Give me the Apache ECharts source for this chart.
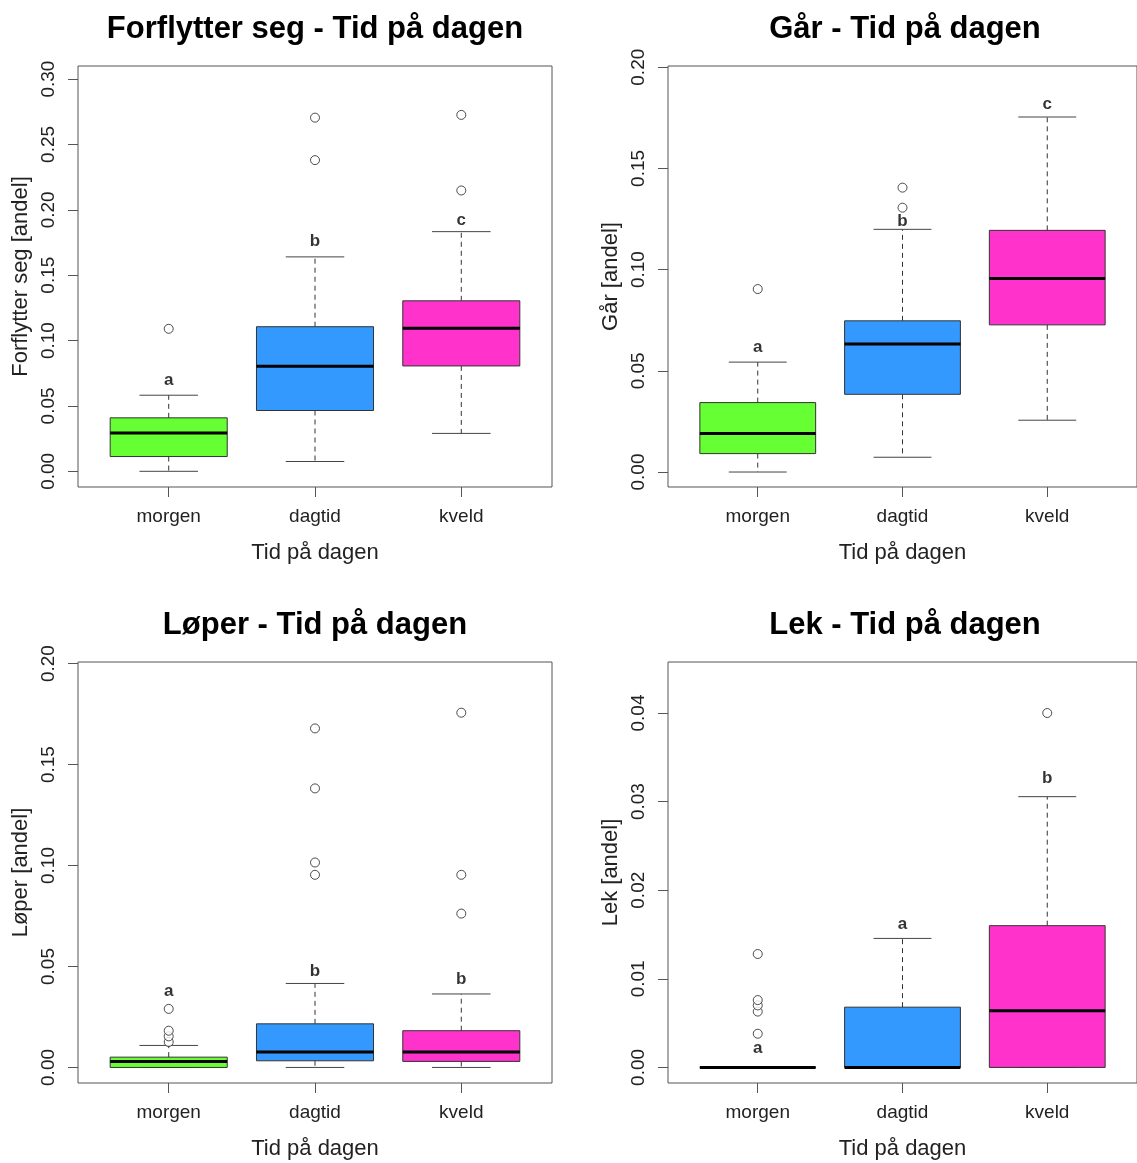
<!DOCTYPE html>
<html>
<head>
<meta charset="utf-8">
<script src="https://cdn.jsdelivr.net/npm/echarts@6/dist/echarts.min.js"></script>
<style>
html,body{margin:0;padding:0;background:#fff;}
#c{width:1137px;height:1163px;}
</style>
</head>
<body>
<div id="c"></div>
<script>
// ---------- data ----------
const categories = ['morgen', 'dagtid', 'kveld'];
const boxColors = ['#66ff33', '#3399ff', '#ff33cc'];

const titles = ['Forflytter seg - Tid på dagen', 'Går - Tid på dagen', 'Løper - Tid på dagen', 'Lek - Tid på dagen'];
const yNames = ['Forflytter seg [andel]', 'Går [andel]', 'Løper [andel]', 'Lek [andel]'];
const xName = 'Tid på dagen';

// [lower whisker, Q1, median, Q3, upper whisker] per category
const forflytterBox = [
  [0.000, 0.0113, 0.0293, 0.0409, 0.0582],
  [0.0075, 0.0465, 0.0804, 0.1106, 0.1640],
  [0.0290, 0.0806, 0.1094, 0.1304, 0.1833]
];
const forflytterOutliers = [[0, 0.109], [1, 0.238], [1, 0.2705], [2, 0.2148], [2, 0.2726]];
const forflytterLetters = ['a', 'b', 'c'];
const forflytterLetterY = [0.0696, 0.1758, 0.192];

const garBox = [
  [0.000, 0.0091, 0.0190, 0.0343, 0.0543],
  [0.0073, 0.0384, 0.0633, 0.0747, 0.1199],
  [0.0256, 0.0727, 0.0956, 0.1194, 0.1754]
];
const garOutliers = [[0, 0.0904], [1, 0.1306], [1, 0.1405]];
const garLetters = ['a', 'b', 'c'];
const garLetterY = [0.0618, 0.1237, 0.1817];

const loperBox = [
  [0.000, 0.000, 0.0030, 0.0051, 0.0109],
  [0.000, 0.0033, 0.0076, 0.0216, 0.0416],
  [0.000, 0.0030, 0.0076, 0.0182, 0.0364]
];
const loperOutliers = [[0, 0.0126], [0, 0.0154], [0, 0.0182], [0, 0.029],
  [1, 0.0954], [1, 0.1015], [1, 0.1382], [1, 0.1679],
  [2, 0.0762], [2, 0.0954], [2, 0.1757]];
const loperLetters = ['a', 'b', 'b'];
const loperLetterY = [0.0376, 0.0478, 0.0437];

const lekBox = [
  [0.000, 0.000, 0.000, 0.000, 0.000],
  [0.000, 0.000, 0.000, 0.0068, 0.01456],
  [0.000, 0.000, 0.0064, 0.0160, 0.03056]
];
const lekOutliers = [[0, 0.0038], [0, 0.0063], [0, 0.0070], [0, 0.0076], [0, 0.0128], [2, 0.040]];
const lekLetters = ['a', 'a', 'b'];
const lekLetterY = [0.0021, 0.0162, 0.0326];

// y tick labels
const yTicks1 = ['0.00', '0.05', '0.10', '0.15', '0.20', '0.25', '0.30'];
const yTicks2 = ['0.00', '0.05', '0.10', '0.15', '0.20'];
const yTicks3 = ['0.00', '0.05', '0.10', '0.15', '0.20'];
const yTicks4 = ['0.00', '0.01', '0.02', '0.03', '0.04'];
// axis ranges
const yRanges = [[-0.012, 0.31], [-0.0074, 0.2006], [-0.0077, 0.2008], [-0.00176, 0.04576]];

// ---------- chart ----------
const panels = [
  {box: forflytterBox, out: forflytterOutliers, let: forflytterLetters, letY: forflytterLetterY, ticks: yTicks1},
  {box: garBox, out: garOutliers, let: garLetters, letY: garLetterY, ticks: yTicks2},
  {box: loperBox, out: loperOutliers, let: loperLetters, letY: loperLetterY, ticks: yTicks3},
  {box: lekBox, out: lekOutliers, let: lekLetters, letY: lekLetterY, ticks: yTicks4}
];
const gridPos = [
  {left: 78, top: 66}, {left: 668, top: 66}, {left: 78, top: 662}, {left: 668, top: 662}
];
const GW = 474, GH = 421;
const FONT = '"Liberation Sans", Arial, Helvetica, sans-serif';

const option = {
  animation: false,
  backgroundColor: '#fff',
  title: [], grid: [], xAxis: [], yAxis: [], series: []
};

panels.forEach((p, i) => {
  const g = gridPos[i];
  option.title.push({
    text: titles[i], left: g.left + GW / 2, textAlign: 'center',
    top: g.top - 52, padding: 0,
    textStyle: {fontFamily: FONT, fontWeight: 'bold', fontSize: 31, color: '#000'}
  });
  option.grid.push({
    left: g.left, top: g.top, width: GW, height: GH,
    show: true, borderColor: '#555', borderWidth: 1, backgroundColor: 'transparent'
  });
  option.xAxis.push({
    type: 'value', gridIndex: i, min: 0.38, max: 3.62, position: 'bottom',
    name: xName, nameLocation: 'middle', nameGap: 55,
    nameTextStyle: {fontFamily: FONT, fontSize: 22, color: '#222'},
    axisLine: {show: false, onZero: false},
    splitLine: {show: false},
    axisTick: {show: true, length: 10, customValues: [1, 2, 3], lineStyle: {color: '#555'}},
    axisLabel: {
      customValues: [1, 2, 3], margin: 20,
      formatter: v => categories[Math.round(v) - 1],
      fontFamily: FONT, fontSize: 19, color: '#222'
    }
  });
  const tickVals = p.ticks.map(Number);
  option.yAxis.push({
    type: 'value', gridIndex: i, min: yRanges[i][0], max: yRanges[i][1], position: 'left',
    name: yNames[i], nameLocation: 'middle', nameGap: 46, nameRotate: 90,
    nameTextStyle: {fontFamily: FONT, fontSize: 22, color: '#222'},
    axisLine: {show: false, onZero: false},
    splitLine: {show: false},
    axisTick: {show: true, length: 10, customValues: tickVals, lineStyle: {color: '#555'}},
    axisLabel: {
      customValues: tickVals, rotate: 90, margin: 20,
      formatter: v => p.ticks[tickVals.findIndex(t => Math.abs(t - v) < 1e-9)],
      fontFamily: FONT, fontSize: 19, color: '#222'
    }
  });
  // boxes via custom series
  option.series.push({
    type: 'custom', xAxisIndex: i, yAxisIndex: i, clip: false,
    data: p.box.map((b, k) => [k + 1].concat(b)),
    renderItem: function (params, api) {
      const x = api.value(0);
      const lo = api.coord([x, api.value(1)]);
      const q1 = api.coord([x, api.value(2)]);
      const md = api.coord([x, api.value(3)]);
      const q3 = api.coord([x, api.value(4)]);
      const hi = api.coord([x, api.value(5)]);
      const hb = api.size([0.4, 0])[0];
      const hc = api.size([0.2, 0])[0];
      const cx = lo[0];
      const dash = {stroke: '#333', lineWidth: 1, lineDash: [5, 4]};
      const solid = {stroke: '#444', lineWidth: 1};
      return {
        type: 'group',
        children: [
          {type: 'line', shape: {x1: cx, y1: q3[1], x2: cx, y2: hi[1]}, style: dash},
          {type: 'line', shape: {x1: cx, y1: q1[1], x2: cx, y2: lo[1]}, style: dash},
          {type: 'line', shape: {x1: cx - hc, y1: hi[1], x2: cx + hc, y2: hi[1]}, style: solid},
          {type: 'line', shape: {x1: cx - hc, y1: lo[1], x2: cx + hc, y2: lo[1]}, style: solid},
          {type: 'rect', shape: {x: cx - hb, y: q3[1], width: 2 * hb, height: q1[1] - q3[1]},
            style: {fill: boxColors[params.dataIndex], stroke: '#333', lineWidth: 1}},
          {type: 'line', shape: {x1: cx - hb, y1: md[1], x2: cx + hb, y2: md[1]},
            style: {stroke: '#000', lineWidth: 3}}
        ]
      };
    }
  });
  // outliers
  option.series.push({
    type: 'scatter', xAxisIndex: i, yAxisIndex: i,
    symbol: 'circle', symbolSize: 9,
    itemStyle: {color: '#fff', borderColor: '#222', borderWidth: 1},
    data: p.out.map(o => [o[0] + 1, o[1]])
  });
  // significance letters
  option.series.push({
    type: 'scatter', xAxisIndex: i, yAxisIndex: i, symbolSize: 0,
    data: p.let.map((l, k) => [k + 1, p.letY[k], l]),
    label: {
      show: true, position: 'inside', formatter: d => d.value[2],
      fontFamily: FONT, fontWeight: 'bold', fontSize: 17, color: '#000'
    }
  });
});

const chart = echarts.init(document.getElementById('c'), null, {renderer: 'canvas'});
chart.setOption(option);
</script>
</body>
</html>
